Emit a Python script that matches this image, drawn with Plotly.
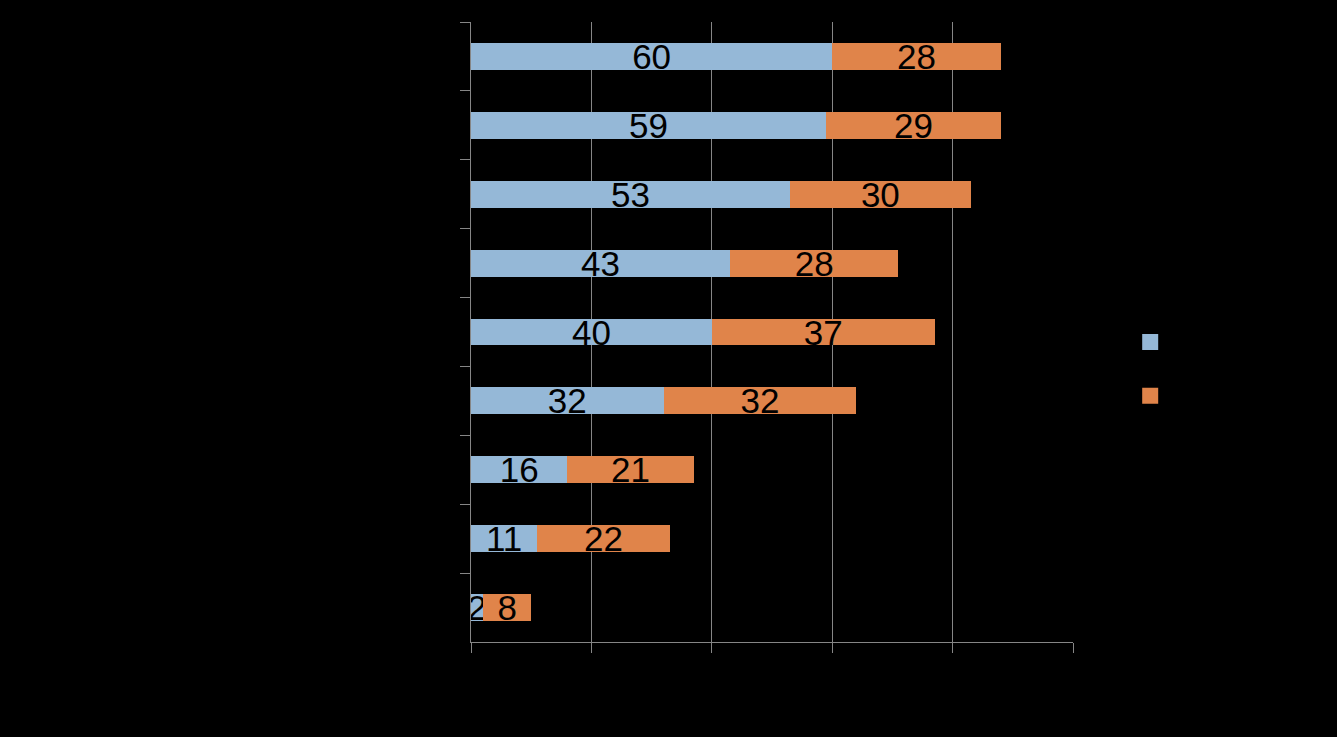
import plotly.graph_objects as go

categories = ["Category 1", "Category 2", "Category 3", "Category 4", "Category 5",
              "Category 6", "Category 7", "Category 8", "Category 9"]
series1_name = "Series 1"
series2_name = "Series 2"
series1 = [60, 59, 53, 43, 40, 32, 16, 11, 2]
series2 = [28, 29, 30, 28, 37, 32, 21, 22, 8]
x_ticks = [0, 20, 40, 60, 80, 100]

blue = "#95B8D7"
orange = "#E0844A"
grid = "#868686"
font_family = "Liberation Sans"

fig = go.Figure()
for name, vals, col in [(series1_name, series1, blue), (series2_name, series2, orange)]:
    fig.add_trace(go.Bar(
        y=categories, x=vals, name=name, orientation="h",
        marker=dict(color=col, line=dict(width=0)),
        text=[str(v) for v in vals], textposition="inside", textangle=0,
        insidetextanchor="middle", constraintext="none",
        textfont=dict(color="black", size=35, family=font_family),
        cliponaxis=False, showlegend=False, legendgroup=name,
    ))
# legend entries with larger square swatches
for name, col in [(series1_name, blue), (series2_name, orange)]:
    fig.add_trace(go.Scatter(
        x=[None], y=[None], mode="markers", name=name, legendgroup=name,
        marker=dict(symbol="square", size=16, color=col, line=dict(width=0)),
        hoverinfo="skip",
    ))

fig.update_layout(
    width=1337, height=737,
    barmode="stack", bargap=0.61,
    paper_bgcolor="black", plot_bgcolor="black",
    margin=dict(l=471, r=264, t=22, b=95),
    font=dict(family=font_family, color="black", size=18),
    legend=dict(x=1.095, y=0.44, xanchor="left", yanchor="middle",
                traceorder="normal",
                font=dict(color="black", size=39), bgcolor="rgba(0,0,0,0)"),
    xaxis=dict(range=[0, 100], tickvals=x_ticks, showticklabels=True,
               tickfont=dict(color="black", size=18),
               showgrid=True, gridcolor=grid, gridwidth=1,
               showline=True, linecolor=grid, linewidth=1,
               ticks="outside", ticklen=10, tickcolor=grid, zeroline=False),
    yaxis=dict(categoryorder="array", categoryarray=categories, autorange="reversed",
               tickson="boundaries", ticks="outside", ticklen=10, tickcolor=grid,
               showline=True, linecolor=grid, linewidth=1, showgrid=False,
               tickfont=dict(color="black", size=18)),
)

fig.write_html("out.html", config={"displayModeBar": False},
               post_script="document.body.style.margin='0';document.body.style.background='black';")
